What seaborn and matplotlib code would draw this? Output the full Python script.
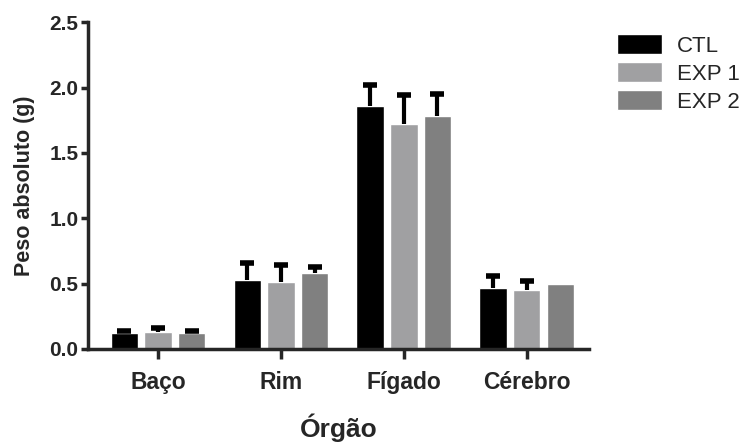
import pandas as pd
import seaborn as sns
import matplotlib.pyplot as plt

orgaos = ['Baço', 'Rim', 'Fígado', 'Cérebro']
grupos = ['CTL', 'EXP 1', 'EXP 2']

ctl = [0.12, 0.53, 1.86, 0.47]
exp1 = [0.13, 0.51, 1.72, 0.45]
exp2 = [0.12, 0.58, 1.78, 0.50]

ctl_err = [0.02, 0.13, 0.16, 0.09]
exp1_err = [0.03, 0.13, 0.22, 0.07]
exp2_err = [0.02, 0.05, 0.17, 0.0]

cores = ['#000000', '#a0a0a2', '#808080']

medias = [ctl, exp1, exp2]
erros = [ctl_err, exp1_err, exp2_err]

linhas = []
for g, vals, errs in zip(grupos, medias, erros):
    for o, v, e in zip(orgaos, vals, errs):
        linhas.append({'Órgão': o, 'Grupo': g, 'Peso': v, 'Erro': e})
df = pd.DataFrame(linhas)

sns.set_style('ticks')
plt.rcParams['font.family'] = ['Liberation Sans', 'DejaVu Sans']

fig = plt.figure(figsize=(7.55, 4.44), dpi=100)
ax = fig.add_axes([0.1166, 0.214, 0.664, 0.736])

sns.barplot(data=df, x='Órgão', y='Peso', hue='Grupo', order=orgaos,
            hue_order=grupos, palette=cores, errorbar=None,
            width=0.82, gap=0.18, saturation=1, ax=ax)

# barras de erro só para cima (haste + tampa)
for i, g in enumerate(grupos):
    sub = df[df['Grupo'] == g].set_index('Órgão').loc[orgaos]
    barras = ax.containers[i]
    for b, v, e in zip(barras, sub['Peso'], sub['Erro']):
        if e <= 0:
            continue
        xc = b.get_x() + b.get_width() / 2
        ax.plot([xc, xc], [v, v + e], color='black', lw=3, zorder=3,
                solid_capstyle='butt')
        ax.plot([xc], [v + e], marker='_', markersize=10,
                markeredgewidth=4, color='black', zorder=3)

ax.set_ylim(0, 2.5)
ax.set_xlim(-0.57, 3.51)
ax.set_yticks([0, 0.5, 1.0, 1.5, 2.0, 2.5])
ax.set_yticklabels(['0.0', '0.5', '1.0', '1.5', '2.0', '2.5'])

for s in ['top', 'right']:
    ax.spines[s].set_visible(False)
for s in ['left', 'bottom']:
    ax.spines[s].set_linewidth(2.5)

ax.tick_params(axis='y', labelsize=15, pad=2, width=2.5, length=5)
ax.tick_params(axis='x', labelsize=16.5, pad=9, width=2.5, length=7)
for lab in ax.get_xticklabels() + ax.get_yticklabels():
    lab.set_fontweight('bold')

ax.set_ylabel('Peso absoluto (g)', fontsize=15.5, fontweight='bold', labelpad=10)
ax.set_xlabel('Órgão', fontsize=19, fontweight='bold', labelpad=14)

ax.legend(title=None, frameon=False, loc='upper left',
          bbox_to_anchor=(1.016, 1.025), fontsize=16, handlelength=2.0,
          handleheight=1.0, labelspacing=0.25, handletextpad=0.7)

plt.savefig('out.png', dpi=100)
plt.close()
